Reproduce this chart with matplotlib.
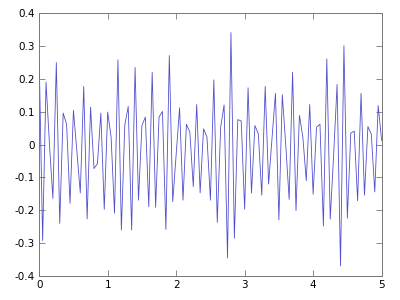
import numpy as np
import matplotlib
matplotlib.use("Agg")
import matplotlib.pyplot as plt
from matplotlib.ticker import FuncFormatter

# sample times (step 0.05) and signal values
t = np.linspace(0, 5, 101)
signal = [
    0.26, -0.292, 0.19, 0.0, -0.164, 0.25, -0.24, 0.096, 0.062, -0.179,
    0.104, -0.02, -0.147, 0.177, -0.226, 0.114, -0.073, -0.058, 0.096, -0.197,
    0.099, 0.023, -0.209, 0.258, -0.26, 0.06, 0.116, -0.26, 0.235, -0.169,
    0.058, 0.084, -0.189, 0.22, -0.191, 0.084, 0.101, -0.258, 0.271, -0.174,
    -0.03, 0.112, -0.169, 0.062, 0.038, -0.128, 0.122, -0.147, 0.048, 0.023,
    -0.169, 0.197, -0.237, 0.053, 0.121, -0.345, 0.341, -0.285, 0.076, 0.072,
    -0.197, 0.173, -0.148, 0.058, 0.033, -0.154, 0.177, -0.12, 0.02, 0.156,
    -0.229, 0.152, 0.0, -0.167, 0.22, -0.201, 0.089, 0.023, -0.11, 0.122,
    -0.151, 0.053, 0.062, -0.248, 0.261, -0.227, -0.03, 0.183, -0.369, 0.301,
    -0.224, 0.035, 0.041, -0.171, 0.156, -0.154, 0.055, 0.031, -0.144, 0.119,
    0.013,
]
xticks = [0, 1, 2, 3, 4, 5]
yticks = [-0.4, -0.3, -0.2, -0.1, 0, 0.1, 0.2, 0.3, 0.4]

fig = plt.figure(figsize=(4, 3), dpi=100)
ax = fig.add_axes([0.098, 0.08, 0.856, 0.876])
ax.plot(t, signal, color='#5050cc', linewidth=0.6)

ax.set_xlim(0, 5)
ax.set_ylim(-0.4, 0.4)
ax.set_xticks(xticks)
ax.set_yticks(yticks)
ax.yaxis.set_major_formatter(FuncFormatter(lambda v, p: '%g' % round(v, 2)))
ax.tick_params(direction='in', top=True, right=True, length=4, width=0.6,
               color='#777777', labelsize=7.5, pad=3)
for s in ax.spines.values():
    s.set_color('#777777')
    s.set_linewidth(0.7)

fig.savefig('out.png', dpi=100)
